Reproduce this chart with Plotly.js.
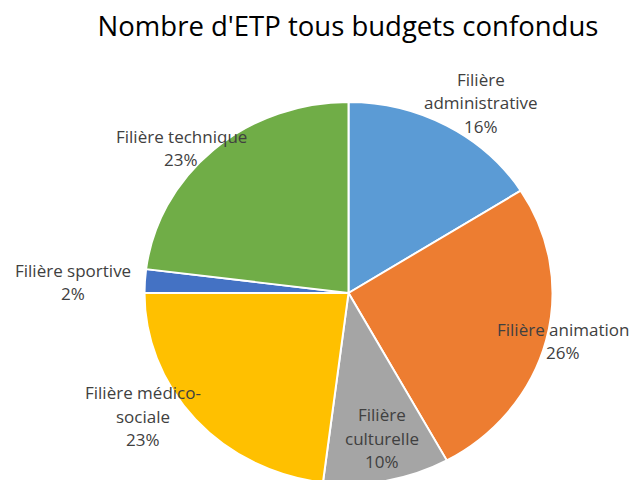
<!DOCTYPE html>
<html><head><meta charset="utf-8">
<script src="https://cdn.plot.ly/plotly-3.0.1.min.js"></script>
<style>html,body{margin:0;padding:0;overflow:hidden;background:#fff;width:636px;height:480px}#chart{width:636px;height:520px}</style>
</head><body><div id="chart"></div>
<script>
const categories = ["Filière administrative","Filière animation","Filière culturelle","Filière médico-sociale","Filière sportive","Filière technique"];
const labelLines = [["Filière","administrative"],["Filière animation"],["Filière","culturelle"],["Filière médico-","sociale"],["Filière sportive"],["Filière technique"]];
const values = [16, 26, 10, 23, 2, 23];
const colors = ["#5B9BD5","#ED7D31","#A5A5A5","#FFC000","#4472C4","#70AD47"];
const titleText = "Nombre d'ETP tous budgets confondus";

const W = 636, H = 520;
const cx = 348.5, cy = 293, rx = 204, ry = 191;
// label centre positions (pixels)
const labelPos = [[481,103],[563,341],[382,438],[143,416],[73,282],[181,148]];
const lineH = 23.5;

const total = values.reduce((a,b)=>a+b,0);
const annotations = [];
labelLines.forEach((lines,i)=>{
  const all = lines.concat([Math.round(values[i]/total*100)+"%"]);
  const n = all.length;
  all.forEach((t,k)=>{
    const y = labelPos[i][1] + (k-(n-1)/2)*lineH;
    annotations.push({text:t, x:labelPos[i][0]/W, y:(H-y)/H, xref:"paper", yref:"paper",
      xanchor:"center", yanchor:"middle", showarrow:false,
      font:{family:"Open Sans, sans-serif", size:17, color:"#404040"}});
  });
});

Plotly.newPlot("chart", [{
  type:"pie", labels:categories, values:values, sort:false, direction:"clockwise", rotation:0,
  marker:{colors:colors, line:{color:"#ffffff", width:2}},
  textinfo:"none", hoverinfo:"label+percent", showlegend:false,
  domain:{x:[(cx-rx)/W,(cx+rx)/W], y:[(H-cy-rx)/H,(H-cy+rx)/H]}
}], {
  width:W, height:H, margin:{l:0,r:0,t:0,b:0},
  paper_bgcolor:"#fff",
  title:{text:titleText, x:348/W, xanchor:"center", y:(H-26)/H, yanchor:"middle", yref:"paper",
    font:{family:"Open Sans, sans-serif", size:27.5, color:"#000"}},
  annotations:annotations
}, {displayModeBar:false, staticPlot:true}).then(()=>{
  // Excel draws this pie slightly stretched horizontally: squash it vertically
  const g = document.querySelector(".pielayer");
  if (g) g.setAttribute("transform", `translate(${cx},${cy}) scale(1,${ry/rx}) translate(${-cx},${-cy})`);
});
</script></body></html>
